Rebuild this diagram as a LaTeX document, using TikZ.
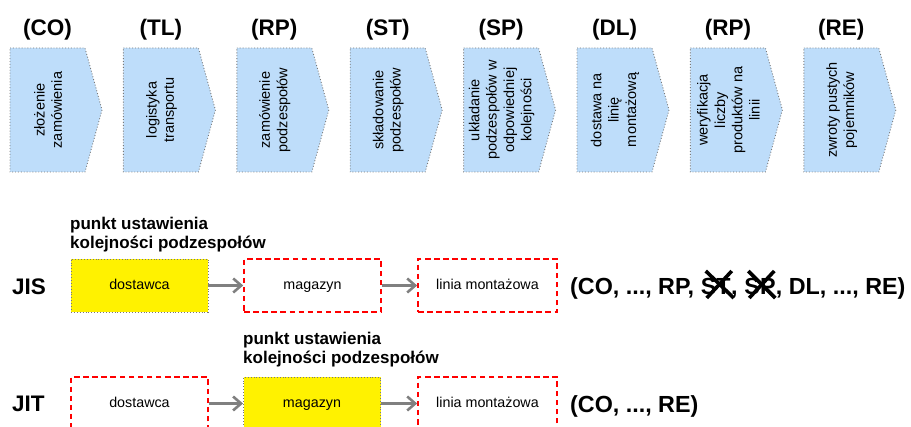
\documentclass[tikz,border=0pt]{standalone}
\usepackage{fontspec}
\setmainfont{Liberation Sans}
\usetikzlibrary{arrows.meta}
\definecolor{procblue}{RGB}{190,221,250}
\definecolor{arrgray}{RGB}{128,128,128}
\definecolor{dotgray}{RGB}{120,120,120}
\begin{document}
\begin{tikzpicture}[x=1pt,y=-1pt,
  proc/.style={fill=procblue, draw=dotgray, dotted, line width=0.9pt},
  proctext/.style={rotate=90, align=center, inner sep=0pt, font=\fontsize{14.5}{17.3}\selectfont},
  head/.style={inner sep=0pt, font=\fontsize{22.5}{26}\selectfont\bfseries},
  rowlbl/.style={inner sep=0pt, anchor=west, font=\fontsize{22.5}{26}\selectfont\bfseries},
  punkt/.style={inner sep=0pt, anchor=north west, align=left, font=\fontsize{17}{18.6}\selectfont\bfseries},
  boxtext/.style={inner sep=0pt, minimum width=137pt, minimum height=53pt, text height=10pt, text depth=2pt, font=\fontsize{14.3}{16}\selectfont},
  ybox/.style={boxtext, fill=yellow, draw=dotgray, dotted, line width=0.9pt},
  rbox/.style={boxtext, draw=red, dash pattern=on 5.5pt off 3.6pt, line width=1.6pt},
  conn/.style={draw=arrgray, line width=2.6pt, -{Straight Barb[length=8pt,width=14pt,line width=2.6pt]}},
  tup/.style={inner sep=0pt, anchor=base west, font=\fontsize{23.3}{27}\selectfont\bfseries},
  cross/.style={line width=3.6pt, black}]
\useasboundingbox (0,0) rectangle (911,427);
% process chevrons
\foreach \i/\h/\t in {0/CO/{złożenie\\zamówienia},
  1/TL/{logistyka\\transportu},
  2/RP/{zamówienie\\podzespołów},
  3/ST/{składowanie\\podzespołów},
  4/SP/{układanie\\podzespołów w\\odpowiedniej\\kolejności},
  5/DL/{dostawa na\\linię\\montażową},
  6/RP/{weryfikacja\\liczby\\produktów na\\linii},
  7/RE/{zwroty pustych\\pojemników}} {
  \pgfmathsetmacro\L{10+113.4*\i}
  \draw[proc] (\L,48) -- (\L+75,48) -- (\L+92,110) -- (\L+75,172) -- (\L,172) -- cycle;
  \node[proctext] (p\i) at (\L+38,110) {\t};
  \node[head] (h\i) at (\L+37.5,30) {(\h)};
}
% JIS row
\node[rowlbl] (jis) at (12,287) {JIS};
\node[punkt] (jisp) at (70,217) {punkt ustawienia\\kolejności podzespołów};
\node[ybox] (jisd) at (139.5,285.5) {dostawca};
\node[rbox] (jism) at (312.5,285.5) {magazyn};
\node[rbox, minimum width=139pt] (jisl) at (487.5,285.5) {linia montażowa};
\draw[conn] (jisd) -- (jism);
\draw[conn] (jism) -- (jisl);
\node[tup] (t1) at (570,295) {(CO, ..., RP,\kern0.278em};
\node[tup] (t2) at (t1.base east) {ST};
\node[tup] (t3) at (t2.base east) {,\kern0.278em};
\node[tup] (t4) at (t3.base east) {SP};
\node[tup] (t5) at (t4.base east) {, DL, ..., RE)};
\draw[cross] ([shift={(5,-24)}]t2.base west) -- ([shift={(33,3)}]t2.base west);
\draw[cross] ([shift={(31,-24)}]t2.base west) -- ([shift={(6,3)}]t2.base west);
\draw[cross] ([shift={(4,-24)}]t4.base west) -- ([shift={(31,3)}]t4.base west);
\draw[cross] ([shift={(30,-24)}]t4.base west) -- ([shift={(5,3)}]t4.base west);
% JIT row
\node[rowlbl] (jit) at (12,404) {JIT};
\node[punkt] (jitp) at (243,332) {punkt ustawienia\\kolejności podzespołów};
\node[rbox] (jitd) at (139.5,403.5) {dostawca};
\node[ybox] (jitm) at (312,403.5) {magazyn};
\node[rbox, minimum width=139pt] (jitl) at (487.5,403.5) {linia montażowa};
\draw[conn] (jitd) -- (jitm);
\draw[conn] (jitm) -- (jitl);
\node[tup] (u1) at (570,413) {(CO, ..., RE)};
\end{tikzpicture}
\end{document}
